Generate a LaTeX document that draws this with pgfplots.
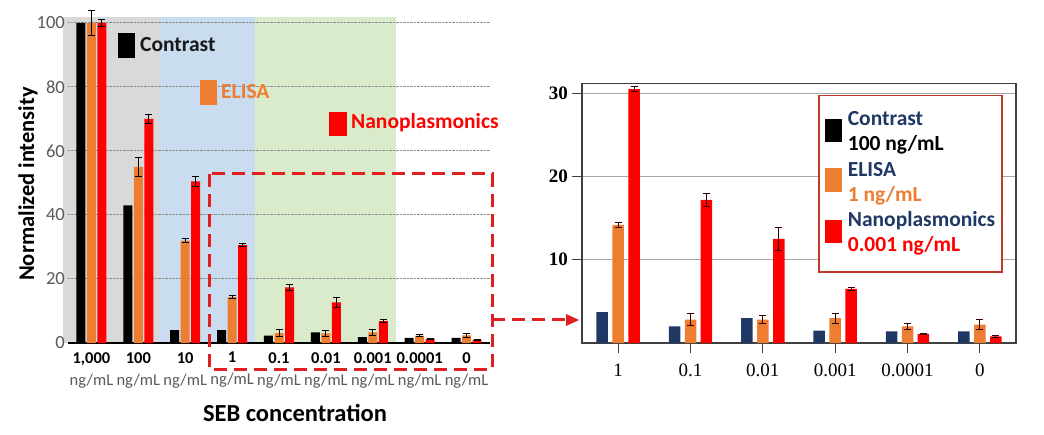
\documentclass[border=0pt]{standalone}
\usepackage{fontspec}
\setmainfont{Carlito}
\newfontfamily\timesf{Liberation Serif}
\usepackage{pgfplots}
\usepackage{pgfplotstable}
\pgfplotsset{compat=1.18}
\usetikzlibrary{arrows.meta}

\definecolor{orangec}{HTML}{ED7D31}
\definecolor{redc}{HTML}{FF0000}
\definecolor{navyc}{HTML}{1F3864}
\definecolor{dashred}{HTML}{E02020}
\definecolor{legred}{HTML}{C0392B}
\definecolor{bggray}{HTML}{D9D9D9}
\definecolor{bgblue}{HTML}{C9DCF0}
\definecolor{bggreen}{HTML}{DAEBCB}
\definecolor{tickgray}{HTML}{595959}

\pgfplotstableread{
x c e ee n ne
0 100 100 4 100 1
1 43 55 3 70 1.5
2 4 32 0.6 50.5 1.5
3 4 14.3 0.5 30.7 0.5
4 2.3 3.1 1 17.4 1
5 3.3 3 0.8 12.7 1.5
6 1.8 3.3 0.9 6.8 0.5
7 1.6 2.3 0.4 1.2 0.2
8 1.6 2.4 0.6 1.0 0.2
}\lefttab

\pgfplotstableread{
x c e ee n ne
0 3.7 14.2 0.3 30.5 0.3
1 2.0 2.8 0.7 17.2 0.8
2 3.0 2.8 0.5 12.5 1.4
3 1.5 3.0 0.6 6.5 0.2
4 1.4 2.0 0.4 1.1 0.1
5 1.4 2.2 0.6 0.8 0.1
}\righttab

\newcommand{\xl}[1]{\textbf{#1}\\\textcolor{tickgray}{ng/mL}}

\begin{document}
\begin{tikzpicture}
\path (0pt,0pt) rectangle (1044pt,434pt);

% ---------- left chart ----------
\begin{axis}[
  at={(68pt,91pt)}, anchor=south west, scale only axis,
  width=422pt, height=332.8pt,
  set layers, clip=false,
  xmin=-0.5, xmax=8.5, ymin=0, ymax=104,
  axis x line*=bottom, axis y line*=left,
  x axis line style={-, black, line width=1.8pt},
  y axis line style={draw=none},
  major tick length=0pt,
  xtick={0,...,8},
  xticklabels={\xl{1,000},\xl{100},\xl{10},\xl{1},\xl{0.1},\xl{0.01},\xl{0.001},\xl{0.0001},\xl{0}},
  xticklabel style={align=center, font=\fontsize{16.5}{22}\selectfont, inner sep=2pt, yshift=-7pt},
  ytick={0,20,40,60,80,100},
  yticklabels={0,20,40,60,80,100},
  yticklabel style={font=\fontsize{18.5}{20}\selectfont, text=tickgray, inner sep=3pt},
  ymajorgrids,
  major grid style={densely dotted, black!45, line width=1pt},
  error bars/error bar style={black, line width=0.9pt},
  error bars/error mark options={black, line width=0.9pt, mark size=3.5pt, rotate=90},
]
\begin{pgfonlayer}{axis background}
\fill[bggray] (axis cs:-0.6,0) rectangle (axis cs:1.45,102);
\fill[bgblue] (axis cs:1.45,0) rectangle (axis cs:3.48,102);
\fill[bggreen] (axis cs:3.48,0) rectangle (axis cs:6.5,102);
\end{pgfonlayer}

\addplot[ybar, bar width=9pt, bar shift=0pt, fill=black, draw=none]
  table[x expr=\thisrow{x}-0.224, y=c]{\lefttab};
\addplot[ybar, bar width=9pt, bar shift=0pt, fill=orangec, draw=none,
  error bars/.cd, y dir=both, y explicit]
  table[x=x, y=e, y error=ee]{\lefttab};
\addplot[ybar, bar width=9pt, bar shift=0pt, fill=redc, draw=none,
  error bars/.cd, y dir=both, y explicit]
  table[x expr=\thisrow{x}+0.224, y=n, y error=ne]{\lefttab};
\end{axis}

% labels of the left chart
\node[rotate=90, font=\bfseries\fontsize{22.5}{25}\selectfont] at (28pt,250pt) {Normalized intensity};
\node[font=\bfseries\fontsize{24.5}{26}\selectfont] at (295pt,21pt) {SEB concentration};

\fill[black] (118pt,376pt) rectangle (135pt,401pt);
\node[anchor=west, font=\bfseries\fontsize{21.5}{23}\selectfont, text=black!90, inner sep=0pt] at (140pt,389pt) {Contrast};
\fill[orangec] (200pt,329pt) rectangle (217pt,354pt);
\node[anchor=west, font=\bfseries\fontsize{21.5}{23}\selectfont, text=orangec, inner sep=0pt] at (221pt,342pt) {ELISA};
\fill[redc] (329pt,298pt) rectangle (347pt,322pt);
\node[anchor=west, font=\bfseries\fontsize{21.5}{23}\selectfont, text=redc, inner sep=0pt] at (351pt,311pt) {Nanoplasmonics};

% dashed zoom box and arrow
\draw[dashred, line width=3pt, dash pattern=on 13pt off 7pt] (209pt,260pt) rectangle (492pt,65pt);
\draw[dashred, line width=3pt, dash pattern=on 13pt off 7pt] (492pt,114pt) -- (566pt,114pt);
\fill[dashred] (566pt,108pt) -- (579pt,114pt) -- (566pt,120pt) -- cycle;

% ---------- right chart ----------
\begin{axis}[
  at={(582pt,91pt)}, anchor=south west, scale only axis,
  width=434pt, height=259.7pt,
  xmin=-0.5, xmax=5.5, ymin=0, ymax=31.2,
  axis line style={black!75, line width=1.2pt},
  tick style={black!75, line width=1.2pt},
  tick align=outside, tick pos=left, major tick length=10pt,
  xtick={0,...,5},
  xticklabels={1,0.1,0.01,0.001,0.0001,0},
  xticklabel style={font=\timesf\fontsize{19}{20}\selectfont, inner sep=3pt, yshift=-8pt},
  ytick={10,20,30},
  yticklabels={10,20,30},
  yticklabel style={font=\timesf\bfseries\fontsize{19}{20}\selectfont, inner sep=4pt},
  ymajorgrids,
  major grid style={black!35, line width=1pt},
  error bars/error bar style={black!80!red, line width=0.9pt},
  error bars/error mark options={black!80!red, line width=0.9pt, mark size=3.5pt, rotate=90},
  legend style={at={(0.544,0.955)}, anchor=north west, draw=legred, line width=1.5pt,
    fill=white, inner xsep=6pt, inner ysep=13.5pt, row sep=1.7pt,
    font=\bfseries\fontsize{21.5}{24}\selectfont,
    nodes={inner sep=1pt, text height=15.5pt, text depth=6pt}},
  legend cell align=left,
]
\addlegendimage{legend image code/.code={\fill[black, draw=none, overlay] (0pt,-21pt) rectangle (17pt,2pt); \path[draw=none, fill=none] (0pt,0pt) -- (22pt,0pt);}}
\addlegendentry{\textcolor{navyc}{Contrast}}
\addlegendimage{legend image code/.code={\path[draw=none, fill=none] (0pt,0pt) -- (22pt,0pt);}}
\addlegendentry{\textcolor{black}{100 ng/mL}}
\addlegendimage{legend image code/.code={\fill[orangec, draw=none, overlay] (0pt,-21pt) rectangle (17pt,3pt); \path[draw=none, fill=none] (0pt,0pt) -- (22pt,0pt);}}
\addlegendentry{\textcolor{navyc}{ELISA}}
\addlegendimage{legend image code/.code={\path[draw=none, fill=none] (0pt,0pt) -- (22pt,0pt);}}
\addlegendentry{\textcolor{orangec}{1 ng/mL}}
\addlegendimage{legend image code/.code={\fill[redc, draw=none, overlay] (0pt,-21pt) rectangle (17pt,2pt); \path[draw=none, fill=none] (0pt,0pt) -- (22pt,0pt);}}
\addlegendentry{\textcolor{navyc}{Nanoplasmonics}}
\addlegendimage{legend image code/.code={\path[draw=none, fill=none] (0pt,0pt) -- (22pt,0pt);}}
\addlegendentry{\textcolor{redc}{0.001 ng/mL}}

\addplot[ybar, bar width=11.5pt, bar shift=0pt, fill=navyc, draw=none, forget plot]
  table[x expr=\thisrow{x}-0.221, y=c]{\righttab};
\addplot[ybar, bar width=11.5pt, bar shift=0pt, fill=orangec, draw=none, forget plot,
  error bars/.cd, y dir=both, y explicit]
  table[x=x, y=e, y error=ee]{\righttab};
\addplot[ybar, bar width=11.5pt, bar shift=0pt, fill=redc, draw=none, forget plot,
  error bars/.cd, y dir=both, y explicit]
  table[x expr=\thisrow{x}+0.221, y=n, y error=ne]{\righttab};
\end{axis}
\end{tikzpicture}
\end{document}
